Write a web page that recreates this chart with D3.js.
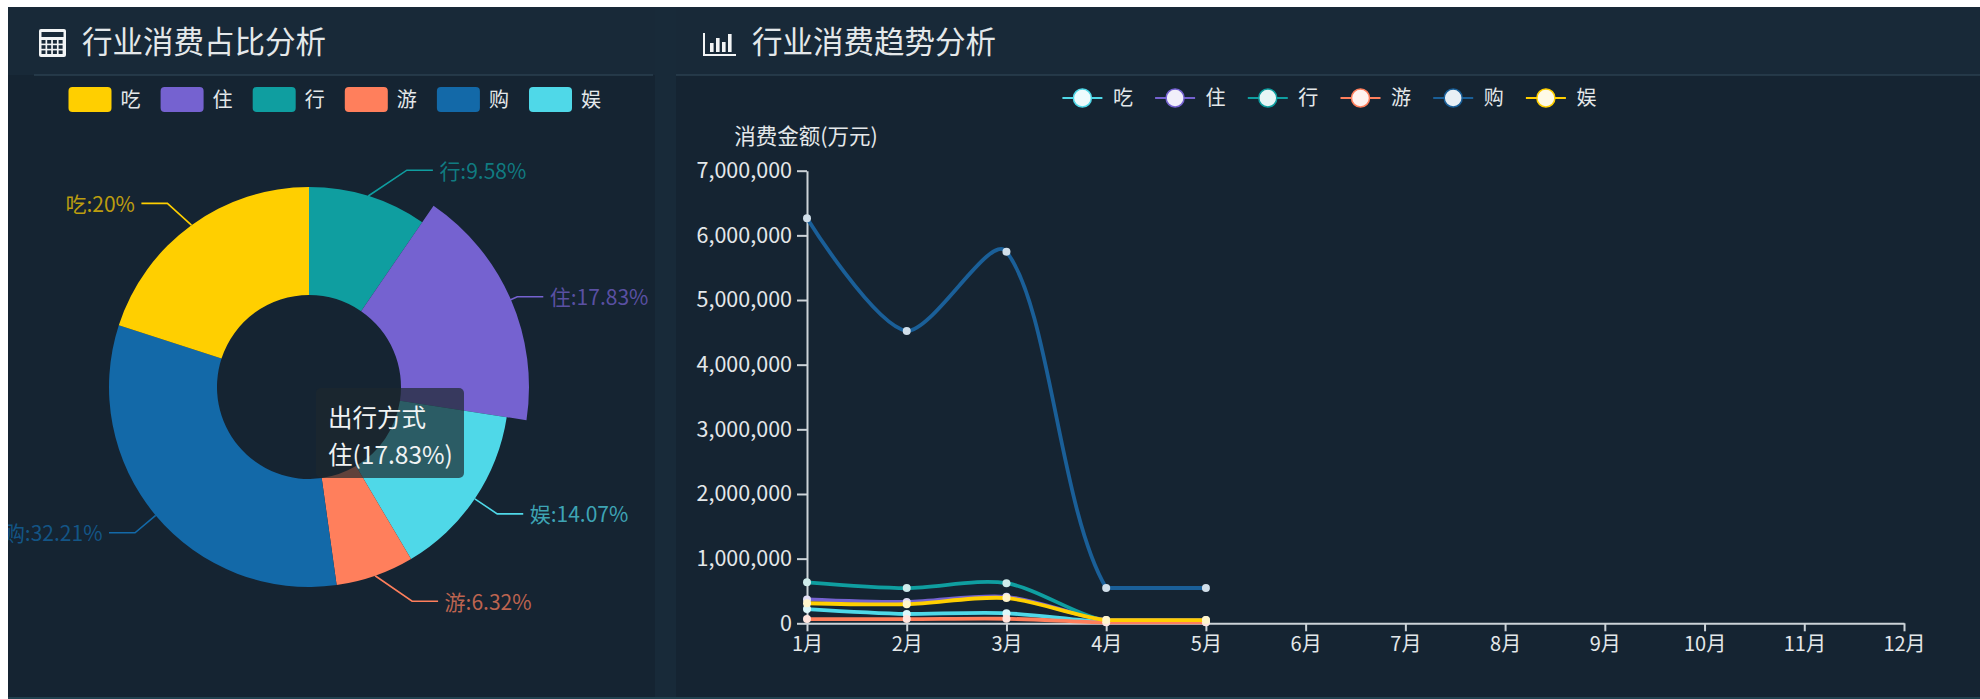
<!DOCTYPE html>
<html>

<head>
  <meta charset="utf-8">
  <script src="https://d3js.org/d3.v7.min.js"></script>
  <style>
    html, body { margin: 0; padding: 0; background: #fff; }
    svg { display: block; }
    text { font-family: "Noto Sans CJK SC", "Noto Sans", sans-serif; }
  </style>
</head>

<body>
  <div id="chart"></div>
  <script type="text/javascript">
    // legend order
    var categories = ['吃', '住', '行', '游', '购', '娱'];
    var pieColors = ['#ffcf00', '#7562d0', '#0f9ea0', '#ff7f5c', '#1369a8', '#4fd8e8'];
    var lineColors = ['#4fd8e8', '#7562d0', '#0f9ea0', '#ff7f5c', '#1a5f98', '#ffcf00'];

    // pie runs clockwise from the top in this order
    var pieOrder = ['行', '住', '娱', '游', '购', '吃'];
    var pieShares = [9.58, 17.83, 14.07, 6.32, 32.21, 20];
    var pieShareLabels = ['9.58%', '17.83%', '14.07%', '6.32%', '32.21%', '20%'];
    var hovered = '住';

    var months = ['1月', '2月', '3月', '4月', '5月', '6月', '7月', '8月', '9月', '10月', '11月', '12月'];
    var chiValues = [220000, 144000, 155000, 20000, 20000];
    var zhuValues = [370000, 330000, 410000, 50000, 50000];
    var xingValues = [634000, 545000, 620000, 35000, 30000];
    var youValues = [66000, 65000, 70000, 15000, 15000];
    var gouValues = [6264000, 4520000, 5747000, 546000, 546000];
    var yuValues = [310000, 295000, 390000, 50000, 50000];
    var lineSeries = [chiValues, zhuValues, xingValues, youValues, gouValues, yuValues];

    var width = 1980, height = 699;
    var bg = '#152432', headerBg = '#182938', rule = '#2a3f4f', axisColor = '#ccd3d8', textColor = '#e4e8ea';

    var svg = d3.select('#chart').append('svg')
      .attr('width', width)
      .attr('height', height);

    DrawPanels();
    DrawPie();
    DrawLines();

    function DrawPanels() {
      svg.append('rect').attr('x', 8).attr('y', 7).attr('width', width - 8).attr('height', height - 7).attr('fill', bg);
      svg.append('rect').attr('x', 8).attr('y', 7).attr('width', width - 8).attr('height', 68).attr('fill', headerBg);
      // gap between the two panels
      svg.append('rect').attr('x', 655).attr('y', 7).attr('width', 21).attr('height', height - 7).attr('fill', '#182a39');
      svg.append('rect').attr('x', 8).attr('y', 697).attr('width', width - 8).attr('height', 2).attr('fill', '#21404e');

      svg.append('line').attr('x1', 34).attr('x2', 653).attr('y1', 75).attr('y2', 75).attr('stroke', rule).attr('stroke-width', 1.5);
      svg.append('line').attr('x1', 676).attr('x2', width).attr('y1', 75).attr('y2', 75).attr('stroke', rule).attr('stroke-width', 1.5);

      svg.append('text').attr('x', 82).attr('y', 42).attr('dy', '.35em').attr('font-size', 30.5).attr('fill', textColor).text('行业消费占比分析');
      svg.append('text').attr('x', 752).attr('y', 42).attr('dy', '.35em').attr('font-size', 30.5).attr('fill', textColor).text('行业消费趋势分析');

      // calculator icon
      var calc = svg.append('g').attr('transform', 'translate(39,29)');
      calc.append('rect').attr('width', 27).attr('height', 28).attr('rx', 2).attr('fill', '#f2f4f5');
      calc.append('rect').attr('x', 2.5).attr('y', 3).attr('width', 22).attr('height', 5).attr('fill', headerBg);
      d3.range(12).forEach(function(i) {
        calc.append('rect')
          .attr('x', 2.5 + (i % 4) * 5.7)
          .attr('y', 11 + Math.floor(i / 4) * 5.2)
          .attr('width', 4).attr('height', 3.6)
          .attr('fill', headerBg);
      });

      // bar chart icon
      var bars = svg.append('g').attr('transform', 'translate(703,33)');
      bars.append('path').attr('d', 'M1,0V22H33').attr('fill', 'none').attr('stroke', '#f2f4f5').attr('stroke-width', 2);
      [[7, 10], [13, 5], [19, 9], [25, 1]].forEach(function(b) {
        bars.append('rect').attr('x', b[0]).attr('y', b[1]).attr('width', 3.6).attr('height', 19 - b[1]).attr('fill', '#f2f4f5');
      });
    }

    function DrawPie() {
      var legend = svg.append('g').selectAll('g')
        .data(categories).enter().append('g')
        .attr('transform', function(d, i) { return 'translate(' + (68.5 + i * 92.1) + ',87)'; });
      legend.append('rect')
        .attr('width', 43).attr('height', 25).attr('rx', 4)
        .attr('fill', function(d, i) { return pieColors[i]; });
      legend.append('text')
        .attr('x', 52).attr('y', 12.5).attr('dy', '.35em')
        .attr('font-size', 20).attr('fill', textColor)
        .text(function(d) { return d; });

      var cx = 309, cy = 387, innerR = 92, outerR = 200, hoverR = 220;
      var colorOf = function(name) { return pieColors[categories.indexOf(name)]; };

      var pie = d3.pie().sort(null).value(function(d) { return d; });
      var slices = pie(pieShares);

      svg.append('clipPath').attr('id', 'panel-clip').append('rect')
        .attr('x', 8).attr('y', 7).attr('width', width).attr('height', height);

      var g = svg.append('g').attr('clip-path', 'url(#panel-clip)');

      // label lines sit under the slices, so the hovered one hides its start
      slices.forEach(function(s, i) {
        var name = pieOrder[i];
        var mid = (s.startAngle + s.endAngle) / 2;
        var sin = Math.sin(mid), cos = Math.cos(mid), side = sin < 0 ? -1 : 1;
        var sx = cx + outerR * sin, sy = cy - outerR * cos;
        var ex = cx + (outerR + 27) * sin, ey = cy - (outerR + 27) * cos;
        // keep the elbow open on slices close to the vertical
        if (Math.abs(sin) < 0.6) ex = sx + side * (1.9 - 1.36 * Math.abs(sin)) * Math.abs(ey - sy);
        var tx = ex + side * 26;

        g.append('path')
          .attr('d', d3.line()([[sx, sy], [ex, ey], [tx, ey]]))
          .attr('fill', 'none')
          .attr('stroke', colorOf(name))
          .attr('stroke-width', 1.6);

        g.append('text')
          .attr('x', tx + side * 6.5).attr('y', ey + 1).attr('dy', '.35em')
          .attr('text-anchor', side < 0 ? 'end' : 'start')
          .attr('font-size', 21)
          .attr('fill', colorOf(name))
          .attr('fill-opacity', 0.72)
          .text(name + ':' + pieShareLabels[i]);
      });

      var arc = d3.arc().innerRadius(innerR).outerRadius(function(d, i) {
        return d.name == hovered ? hoverR : outerR;
      });

      g.append('g').attr('transform', 'translate(' + cx + ',' + cy + ')')
        .selectAll('path')
        .data(slices.map(function(s, i) { return Object.assign({ name: pieOrder[i] }, s); }))
        .enter().append('path')
        .attr('d', arc)
        .attr('fill', function(d) { return colorOf(d.name); });

      // tooltip left open on the hovered slice
      var idx = pieOrder.indexOf(hovered);
      var tip = svg.append('g').attr('transform', 'translate(316,388)');
      tip.append('rect').attr('width', 148).attr('height', 90).attr('rx', 5).attr('fill', 'rgba(28,40,45,0.7)');
      tip.append('text').attr('x', 12).attr('y', 30).attr('dy', '.35em')
        .attr('font-size', 24.5).attr('fill', '#f0f3f4').text('出行方式');
      tip.append('text').attr('x', 12).attr('y', 67).attr('dy', '.35em')
        .attr('font-size', 24.5).attr('fill', '#f0f3f4').text(hovered + '(' + pieShareLabels[idx] + ')');
    }

    function clamp(v, a, b) {
      return Math.max(Math.min(a, b), Math.min(Math.max(a, b), v));
    }

    /**
     * smooth line: handles follow the neighbours, scaled by segment length.
     * the outgoing handle is held inside the range of the next point
     **/
    function SmoothPath(pts) {
      var smooth = 0.3, p = d3.path(), cp = pts[0];
      p.moveTo(pts[0][0], pts[0][1]);
      for (var i = 1; i < pts.length; i++) {
        var a = pts[i - 1], b = pts[i], c = pts[i + 1];
        var inCp = b, outCp = b;
        if (c) {
          var lenPrev = Math.hypot(b[0] - a[0], b[1] - a[1]);
          var lenNext = Math.hypot(c[0] - b[0], c[1] - b[1]);
          var ratio = lenNext / (lenNext + lenPrev);
          var vx = (c[0] - a[0]) * smooth, vy = (c[1] - a[1]) * smooth;
          inCp = [b[0] - vx * (1 - ratio), b[1] - vy * (1 - ratio)];
          outCp = [clamp(b[0] + vx * ratio, b[0], c[0]), clamp(b[1] + vy * ratio, b[1], c[1])];
        }
        p.bezierCurveTo(cp[0], cp[1], inCp[0], inCp[1], b[0], b[1]);
        cp = outCp;
      }
      return p.toString();
    }

    function DrawLines() {
      var x = d3.scalePoint().domain(months).range([807, 1904]);
      var y = d3.scaleLinear().domain([0, 7000000]).range([623.3, 170.7]);

      var xAxis = svg.append('g').attr('transform', 'translate(0,623.3)')
        .call(d3.axisBottom(x).tickSize(8).tickSizeOuter(0).tickPadding(6));
      var yAxis = svg.append('g').attr('transform', 'translate(807,0)')
        .call(d3.axisLeft(y).tickValues(d3.range(0, 7000001, 1000000)).tickSize(10).tickSizeOuter(0).tickPadding(5).tickFormat(d3.format(',')));

      [xAxis, yAxis].forEach(function(a) {
        a.selectAll('path,line').attr('stroke', axisColor).attr('stroke-width', 2);
        a.selectAll('text').attr('fill', textColor).attr('font-family', '"Noto Sans CJK SC", sans-serif');
      });
      xAxis.selectAll('text').attr('font-size', 20);
      yAxis.selectAll('text').attr('font-size', 21.5);

      svg.append('text').attr('x', 806).attr('y', 136).attr('dy', '.35em')
        .attr('text-anchor', 'middle').attr('font-size', 21.5).attr('fill', textColor).text('消费金额(万元)');

      var pale = function(c) { return d3.interpolateRgb(c, '#ffffff')(0.8); };

      lineSeries.forEach(function(values, s) {
        var g = svg.append('g');
        g.append('path')
          .attr('d', SmoothPath(values.map(function(d, i) { return [x(months[i]), y(d)]; })))
          .attr('fill', 'none')
          .attr('stroke', lineColors[s])
          .attr('stroke-width', 3.8);
        g.selectAll('circle').data(values).enter().append('circle')
          .attr('cx', function(d, i) { return x(months[i]); })
          .attr('cy', function(d) { return y(d); })
          .attr('r', 4)
          .attr('fill', pale(lineColors[s]));
      });

      var legend = svg.append('g').selectAll('g')
        .data(categories).enter().append('g')
        .attr('transform', function(d, i) { return 'translate(' + (1082.4 + i * 92.7) + ',98)'; });
      legend.append('line')
        .attr('x1', -20).attr('x2', 20)
        .attr('stroke', function(d, i) { return lineColors[i]; })
        .attr('stroke-width', 2);
      legend.append('circle')
        .attr('r', 9)
        .attr('fill', function(d, i) { return d3.interpolateRgb(lineColors[i], '#ffffff')(0.9); })
        .attr('stroke', function(d, i) { return lineColors[i]; })
        .attr('stroke-width', 1.5);
      legend.append('text')
        .attr('x', 30.5).attr('dy', '.35em')
        .attr('font-size', 20).attr('fill', textColor)
        .text(function(d) { return d; });
    }
  </script>
</body>

</html>
